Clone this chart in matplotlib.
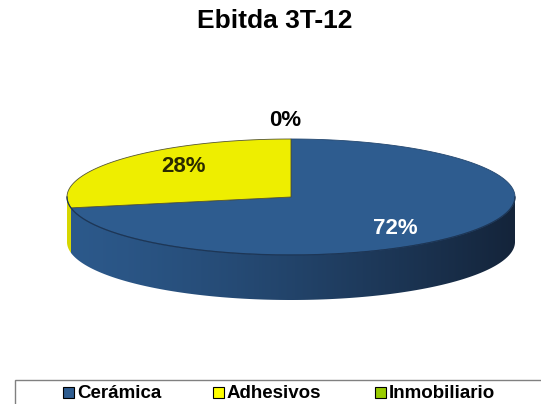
import numpy as np
import matplotlib
matplotlib.use("Agg")
import matplotlib.pyplot as plt
from matplotlib.patches import Polygon, Rectangle

# ---- data ----
title = "Ebitda 3T-12"
categories = ["Cerámica", "Adhesivos", "Inmobiliario"]
values = [72, 28, 0]
labels = ["72%", "28%", "0%"]

# ---- style ----
top_colors = ["#2e5c8f", "#eeee00", "#99cc00"]
legend_colors = ["#2e5c8f", "#ffff00", "#99cc00"]
side_light = [np.array([44, 89, 139]) / 255, np.array([215, 215, 0]) / 255, np.array([130, 175, 0]) / 255]
side_dark = [np.array([20, 36, 58]) / 255, np.array([150, 150, 0]) / 255, np.array([80, 110, 0]) / 255]
label_colors = ["white", "#2a2a00", "black"]

plt.rcParams['font.family'] = ['Liberation Sans', 'DejaVu Sans']

W, H = 541, 404
fig = plt.figure(figsize=(W / 100, H / 100), dpi=100)
ax = fig.add_axes([0, 0, 1, 1])
ax.set_xlim(0, W)
ax.set_ylim(H, 0)
ax.axis("off")

cx, cy = 291, 197
a, b = 224, 58
depth = 45

def pt(t):
    return cx + a * np.cos(t), cy - b * np.sin(t)

# wedge angles: start at top, clockwise
total = sum(values)
fracs = [v / total for v in values]
starts, ends = [], []
ang = 90.0
for f in fracs:
    starts.append(ang)
    ang -= 360 * f
    ends.append(ang)

# ---- side (front half: 180..360 deg), one gradient-filled region per wedge ----
for i, (s, e) in enumerate(zip(starts, ends)):
    if s == e:
        continue
    lo, hi = e % 360, s % 360
    if hi <= lo:
        hi += 360
    # intersect [lo, hi] with visible front [180, 360]
    segs = []
    for off in (0, -360, 360):
        l2, h2 = max(lo + off, 180), min(hi + off, 360)
        if h2 > l2:
            segs.append((l2, h2))
    for l2, h2 in segs:
        tt = np.radians(np.linspace(l2, h2, 200))
        xs, ys = pt(tt)
        verts = list(zip(xs, ys)) + list(zip(xs[::-1], ys[::-1] + depth))
        poly = Polygon(verts, closed=True, facecolor="none", edgecolor="none")
        ax.add_patch(poly)
        gx = np.linspace(0, 1, 400) ** 1.3
        grad = side_light[i][None, :] * (1 - gx[:, None]) + side_dark[i][None, :] * gx[:, None]
        img = ax.imshow(grad[None, :, :], extent=(cx - a, cx + a, cy + b + depth + 5, cy - 5),
                        aspect="auto", interpolation="bilinear", zorder=1)
        img.set_clip_path(poly)

# ---- top wedges ----
for i, (s, e) in enumerate(zip(starts, ends)):
    if s == e:
        continue
    tt = np.radians(np.linspace(e, s, 300))
    xs, ys = pt(tt)
    verts = [(cx, cy)] + list(zip(xs, ys))
    ax.add_patch(Polygon(verts, closed=True, facecolor=top_colors[i],
                         edgecolor="#555533" if i == 1 else "#24476f", linewidth=0.6, zorder=2))

# rim line
tt = np.radians(np.linspace(180, 360, 300))
xs, ys = pt(tt)
ax.plot(xs, ys, color="#1d3656", linewidth=0.9, zorder=3)

ax.set_xlim(0, W)
ax.set_ylim(H, 0)

# ---- labels ----
label_pos = [(395, 228), (183, 167), (285, 120)]
for i, lab in enumerate(labels):
    ax.text(*label_pos[i], lab, ha="center", va="center", fontsize=16,
            fontweight="bold", color=label_colors[i], zorder=5)

# ---- title ----
ax.text(275, 21, title, ha="center", va="center", fontsize=19, fontweight="bold")

# ---- legend ----
ax.add_patch(Rectangle((15, 380), 540, 40, facecolor="white", edgecolor="#808080", linewidth=1))
leg_x = [63, 213, 375]
for i, cat in enumerate(categories):
    ax.add_patch(Rectangle((leg_x[i], 387), 11, 11, facecolor=legend_colors[i],
                           edgecolor="black", linewidth=0.8))
    ax.text(leg_x[i] + 14, 393, cat, ha="left", va="center", fontsize=13.5, fontweight="bold")

fig.savefig("out.png", dpi=100)
